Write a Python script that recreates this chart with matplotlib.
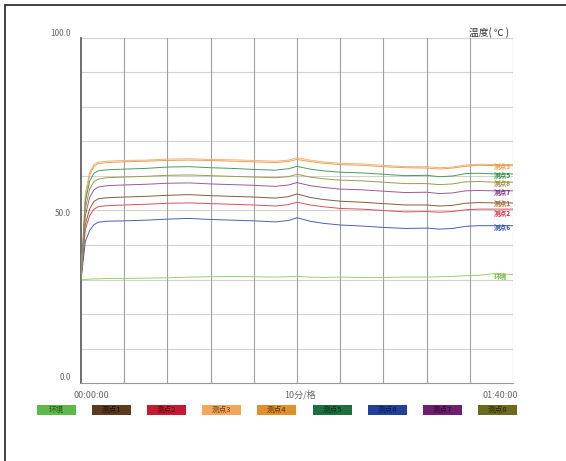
import matplotlib
matplotlib.use("Agg")
import matplotlib.pyplot as plt
from matplotlib.patches import Rectangle

plt.rcParams['font.family'] = ['Noto Sans CJK SC', 'DejaVu Sans']

# minutes, 10 min per division
t = [0, 1, 2, 3, 4, 6, 10, 15, 20, 25, 30, 35, 40, 45, 48, 50, 53, 56, 60,
     65, 70, 75, 80, 83, 86, 89, 92, 96, 100]

ch_orange = [29.9, 55.0, 61.0, 63.3, 64.0, 64.3, 64.5, 64.6, 64.9, 65.0, 64.8, 64.7, 64.5, 64.3, 64.6,
             65.3, 64.6, 64.1, 63.7, 63.5, 63.1, 62.7, 62.7, 62.4, 62.6, 63.2, 63.4, 63.3, 63.3]
ch_orange2 = [29.9, 53.5, 60.2, 62.8, 63.6, 63.9, 64.1, 64.3, 64.5, 64.6, 64.5, 64.3, 64.1, 63.9, 64.2,
              64.8, 64.2, 63.7, 63.3, 63.1, 62.7, 62.4, 62.3, 62.0, 62.3, 62.8, 63.1, 63.0, 63.0]
ch_dkgreen = [29.9, 52.5, 58.5, 60.8, 61.5, 61.8, 62.0, 62.2, 62.6, 62.7, 62.4, 62.2, 61.9, 61.7, 62.1,
              62.8, 62.0, 61.5, 61.1, 60.9, 60.5, 60.1, 60.2, 59.8, 60.0, 60.7, 60.8, 60.6, 60.6]
ch_olive = [29.9, 50.5, 56.2, 58.4, 59.1, 59.5, 59.7, 59.9, 60.2, 60.3, 60.1, 59.9, 59.7, 59.5, 59.8,
            60.5, 59.7, 59.2, 58.8, 58.6, 58.2, 57.8, 57.8, 57.5, 57.7, 58.3, 58.4, 58.2, 58.2]
ch_purple = [29.9, 48.5, 53.8, 56.0, 56.8, 57.2, 57.4, 57.6, 57.9, 58.0, 57.7, 57.5, 57.3, 57.0, 57.4,
             58.1, 57.2, 56.7, 56.2, 56.0, 55.6, 55.2, 55.3, 54.9, 55.1, 55.7, 55.8, 55.7, 55.7]
ch_brown = [29.9, 46.0, 50.5, 52.6, 53.4, 53.7, 53.9, 54.1, 54.4, 54.6, 54.3, 54.1, 53.9, 53.6, 54.0,
            54.8, 53.8, 53.2, 52.7, 52.4, 52.0, 51.6, 51.6, 51.3, 51.5, 52.1, 52.3, 52.2, 52.2]
ch_red = [29.9, 44.5, 48.5, 50.4, 51.1, 51.4, 51.6, 51.8, 52.1, 52.2, 52.0, 51.8, 51.6, 51.3, 51.7,
          52.4, 51.6, 51.1, 50.6, 50.4, 50.0, 49.6, 49.7, 49.5, 49.7, 50.2, 50.4, 50.4, 50.4]
ch_blue = [29.9, 41.0, 44.2, 45.9, 46.6, 46.9, 47.0, 47.2, 47.5, 47.7, 47.4, 47.2, 47.0, 46.7, 47.1,
           47.9, 46.9, 46.3, 45.8, 45.5, 45.1, 44.8, 44.9, 44.6, 44.8, 45.4, 45.6, 45.6, 45.6]
ch_ambient = [29.9, 30.0, 30.1, 30.2, 30.2, 30.3, 30.3, 30.4, 30.5, 30.7, 30.8, 30.9, 30.8, 30.7, 30.8,
              30.9, 30.7, 30.6, 30.7, 30.6, 30.6, 30.7, 30.7, 30.8, 30.9, 31.1, 31.2, 31.8, 31.4]

names = ["环境", "测点1", "测点2", "测点3", "测点4", "测点5", "测点6", "测点7", "测点8"]
series = [ch_ambient, ch_brown, ch_red, ch_orange, ch_orange2, ch_dkgreen, ch_blue, ch_purple, ch_olive]
line_colors = ['#9ccf6a', '#8a5a3a', '#d8505a', '#f3b27a', '#e8a050', '#4a9a62', '#4a62b0', '#9a5a9a', '#9a9a50']
chip_colors = ['#5fb84a', '#5c3a20', '#c41a32', '#f2a65a', '#e0902a', '#1e6e40', '#22409a', '#6e1f6e', '#6b6a1e']
chip_text = ['#1e5a14', '#1a0f05', '#4a0510', '#6a3a10', '#5a3008', '#05301a', '#081a50', '#2a052a', '#25250a']
label_colors = ['#7ab840', '#a8642a', '#d02838', '#e89a40', '#e89a40', '#2e8a40', '#2a4aa0', '#7a2a7a', '#9a8a30']

y_ticks = [0, 50, 100]
y_labels = ["0.0", "50.0", "100.0"]
x_labels = ["00:00:00", "10分/格", "01:40:00"]

fig = plt.figure(figsize=(5.66, 4.61), dpi=100)
fig.add_artist(Rectangle((5 / 566, -0.1), 1.2, (461 - 5) / 461 + 0.1, transform=fig.transFigure,
                         fill=False, edgecolor='#333333', linewidth=1.3))
ax = fig.add_axes([81 / 566, 1 - 383 / 461, (513 - 81) / 566, (383 - 38) / 461])
ax.set_xlim(0, 100)
ax.set_ylim(0, 100)

for v in range(10, 101, 10):
    ax.axhline(v, color='#d2d2d2', lw=0.8, zorder=1)
for v in range(10, 101, 10):
    ax.axvline(v, color='#a0a0a0', lw=0.8, zorder=1)

for s, c in zip(series, line_colors):
    ax.plot(t, s, color=c, lw=0.7, zorder=3)

for sp in ['top', 'right']:
    ax.spines[sp].set_visible(False)
ax.spines['left'].set_color('#555555')
ax.spines['left'].set_linewidth(1.2)
ax.spines['bottom'].set_color('#999999')
ax.set_xticks([])
ax.set_yticks([])

for v, lab in zip(y_ticks, y_labels):
    ax.text(-2.3, v + (1.2 if v == 100 else (-0.8 if v == 50 else 1.5)), lab, ha='right', va='center',
            fontsize=6, color='#666666')

ax.text(2.3, -3.5, x_labels[0], ha='center', va='center', fontsize=6.5, color='#666666', clip_on=False)
ax.text(50.7, -3.5, x_labels[1], ha='center', va='center', fontsize=6.5, color='#666666', clip_on=False)
ax.text(97.0, -3.5, x_labels[2], ha='center', va='center', fontsize=6.5, color='#666666', clip_on=False)
ax.text(99, 101.5, "温度( ℃ )", ha='right', va='center', fontsize=7, color='#333333', clip_on=False)

# channel names at the right end
nudge = {id(ch_brown): 0.4, id(ch_red): -0.8}
for s, c, n in zip(series, label_colors, names):
    if s is ch_orange2:
        continue
    ax.text(95.5, s[-1] - 0.5 + nudge.get(id(s), 0), n, ha='left', va='center', fontsize=4.8,
            color=c, fontweight='bold', clip_on=False, zorder=4)

# legend chips
for i, (n, fc, tc) in enumerate(zip(names, chip_colors, chip_text)):
    cx = 56 + i * 55.2
    fig.add_artist(Rectangle(((cx - 19.5) / 566, 1 - 415 / 461), 39 / 566, 10 / 461,
                             transform=fig.transFigure, facecolor=fc, edgecolor='none'))
    fig.text(cx / 566, 1 - 410 / 461, n, ha='center', va='center', fontsize=5.5, color=tc)

fig.savefig("out.png", dpi=100)
